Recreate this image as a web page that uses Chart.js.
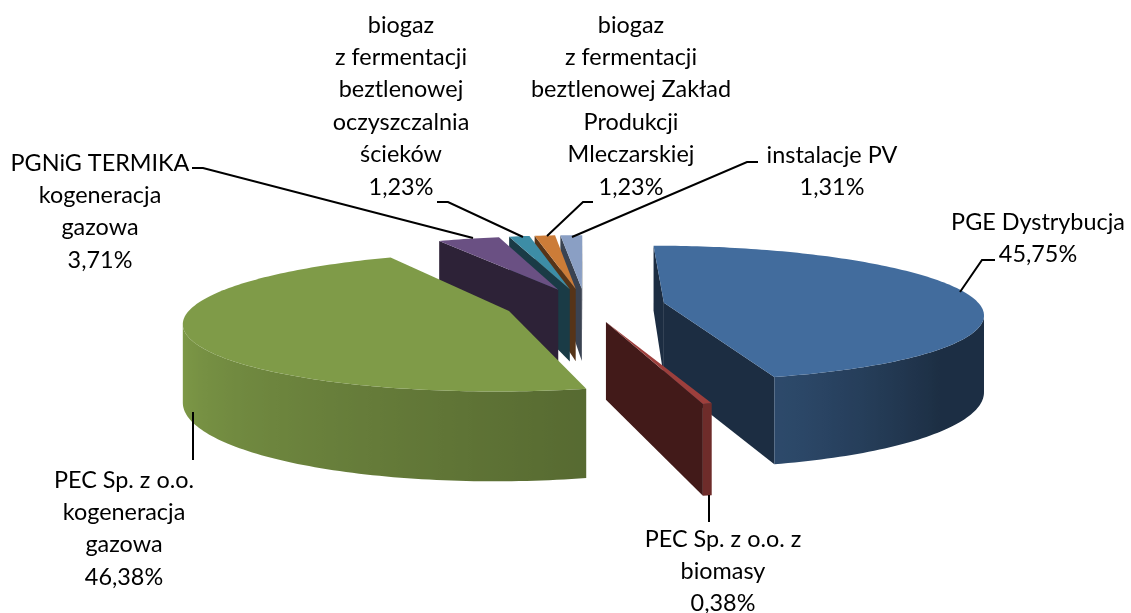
<!DOCTYPE html>
<html>
<head>
<meta charset="utf-8">
<style>
body { margin: 0; background: #fff; }
</style>
<script src="https://cdn.jsdelivr.net/npm/chart.js@4"></script>
</head>
<body>
<canvas id="pie3d" width="1131" height="613"></canvas>
<script>
const categories = [
    ["PGE Dystrybucja"],
    ["PEC Sp. z o.o. z", "biomasy"],
    ["PEC Sp. z o.o.", "kogeneracja", "gazowa"],
    ["PGNiG TERMIKA", "kogeneracja", "gazowa"],
    ["biogaz", "z fermentacji", "beztlenowej", "oczyszczalnia", "ścieków"],
    ["biogaz", "z fermentacji", "beztlenowej Zakład", "Produkcji", "Mleczarskiej"],
    ["instalacje PV"]
];
const shares = [45.75, 0.38, 46.38, 3.71, 1.23, 1.23, 1.31];
const topColors = ["#426c9d", "#9d3f3c", "#7f9b48", "#6a5083", "#3d8da6", "#cc7c38", "#8a9fc4"];

// label centre x and first line y
const labelX = [1038, 723, 124, 100, 401, 631, 832];
const labelY = [222, 539, 480, 163, 25, 25, 155];

const leaders = [
    [[960, 292], [982, 260], [995, 260]],
    [[709, 495], [709, 522]],
    [[193, 412], [193, 460]],
    [[473, 238], [203, 168], [192, 168]],
    [[523, 237], [448, 202], [437, 202]],
    [[547, 236], [583, 202], [593, 202]],
    [[572, 237], [747, 162], [758, 162]]
];

// view of the tilted pie
const tilt = 0.21;
const persp = 0.00048;
const thickness = 75;

function project(arc, u, v, z) {
    const w = 1 / (1 - persp * v);
    return { x: arc.x + u * w, y: arc.y + (tilt * v + z) * w };
}

function planePoint(arc, a, r) {
    const mid = (arc.startAngle + arc.endAngle) / 2;
    const o = arc.options.offset;
    return { u: Math.cos(mid) * o + Math.cos(a) * r, v: Math.sin(mid) * o + Math.sin(a) * r };
}

function shade(hex, f) {
    const n = parseInt(hex.slice(1), 16);
    return "rgb(" + [(n >> 16) & 255, (n >> 8) & 255, n & 255].map(c => Math.round(c * f)).join(",") + ")";
}

// rim gets lighter towards the left, like the office 3d lighting
function rimFactor(a) {
    const d = a * 180 / Math.PI;
    if (d < 40) return 0.43;
    if (d < 72) return 0.43 + (d - 40) / 32 * 0.24;
    if (d < 170) return 0.67 + (d - 72) / 98 * 0.33;
    return 1;
}

function area(pts) {
    let s = 0;
    pts.forEach((p, i) => {
        const q = pts[(i + 1) % pts.length];
        s += p.x * q.y - q.x * p.y;
    });
    return s / 2;
}

function fillPoly(ctx, pts, color) {
    ctx.beginPath();
    pts.forEach((p, i) => i ? ctx.lineTo(p.x, p.y) : ctx.moveTo(p.x, p.y));
    ctx.closePath();
    ctx.fillStyle = color;
    ctx.fill();
}

function drawSlice(ctx, arc, color) {
    const pt = (a, r, z) => {
        const p = planePoint(arc, a, r);
        return project(arc, p.u, p.v, z);
    };
    const R = arc.outerRadius;
    const start = arc.startAngle, end = arc.endAngle;
    const walls = [
        [pt(start, 0, 0), pt(start, R, 0), pt(start, R, thickness), pt(start, 0, thickness)],
        [pt(end, R, 0), pt(end, 0, 0), pt(end, 0, thickness), pt(end, R, thickness)]
    ];
    walls.forEach(q => {
        if (area(q) < 0) fillPoly(ctx, q, shade(color, 0.42));
    });

    const steps = Math.max(2, Math.ceil((end - start) / 0.02));
    const rim = [];
    for (let i = 0; i <= steps; i++) rim.push(start + (end - start) * i / steps);

    // only the part of the rim facing the viewer, as one polygon with a horizontal gradient
    const front = rim.filter(a => {
        const q = [pt(a, R, 0), pt(a + 0.01, R, 0), pt(a + 0.01, R, thickness), pt(a, R, thickness)];
        return area(q) < 0;
    });
    if (front.length > 1) {
        const upper = front.map(a => pt(a, R, 0));
        const lower = front.map(a => pt(a, R, thickness)).reverse();
        const xs = upper.map(p => p.x);
        const x0 = Math.min(...xs), x1 = Math.max(...xs);
        const grad = ctx.createLinearGradient(x0, 0, x1 + 0.01, 0);
        front.forEach((a, i) => {
            const f = end - start < 0.1 ? 0.7 : rimFactor(a);
            grad.addColorStop(Math.min(1, Math.max(0, (xs[i] - x0) / (x1 + 0.01 - x0))), shade(color, f));
        });
        fillPoly(ctx, upper.concat(lower), grad);
    }

    const face = [pt(start, 0, 0)];
    rim.forEach(a => face.push(pt(a, R, 0)));
    fillPoly(ctx, face, color);
}

const pie3d = {
    id: "pie3d",
    beforeDatasetsDraw(chart) {
        const ctx = chart.ctx;
        const arcs = chart.getDatasetMeta(0).data.map((arc, i) => ({ arc, i }));
        arcs.sort((a, b) =>
            Math.sin((a.arc.startAngle + a.arc.endAngle) / 2) - Math.sin((b.arc.startAngle + b.arc.endAngle) / 2));
        ctx.save();
        arcs.forEach(o => drawSlice(ctx, o.arc, topColors[o.i]));
        ctx.restore();
        return false;
    },
    afterDraw(chart) {
        const ctx = chart.ctx;
        ctx.save();
        ctx.strokeStyle = "#000";
        ctx.lineWidth = 2;
        leaders.forEach(line => {
            ctx.beginPath();
            line.forEach((p, i) => i ? ctx.lineTo(p[0], p[1]) : ctx.moveTo(p[0], p[1]));
            ctx.stroke();
        });
        ctx.fillStyle = "#000";
        ctx.font = "23.4px Lato";
        ctx.textAlign = "center";
        ctx.textBaseline = "middle";
        categories.forEach((lines, i) => {
            const text = lines.concat(shares[i].toFixed(2).replace(".", ",") + "%");
            text.forEach((t, j) => ctx.fillText(t, labelX[i], labelY[i] + j * 32.4));
        });
        ctx.restore();
    }
};

new Chart(document.getElementById("pie3d"), {
    type: "pie",
    data: {
        labels: categories.map(c => c.join(" ")),
        datasets: [{
            data: shares,
            backgroundColor: topColors,
            borderWidth: 0,
            offset: 80
        }]
    },
    options: {
        responsive: false,
        animation: false,
        rotation: 0,
        radius: 316,
        layout: { padding: { left: 39, bottom: 3 } },
        plugins: { legend: { display: false }, tooltip: { enabled: false } }
    },
    plugins: [pie3d]
});
</script>
</body>
</html>
